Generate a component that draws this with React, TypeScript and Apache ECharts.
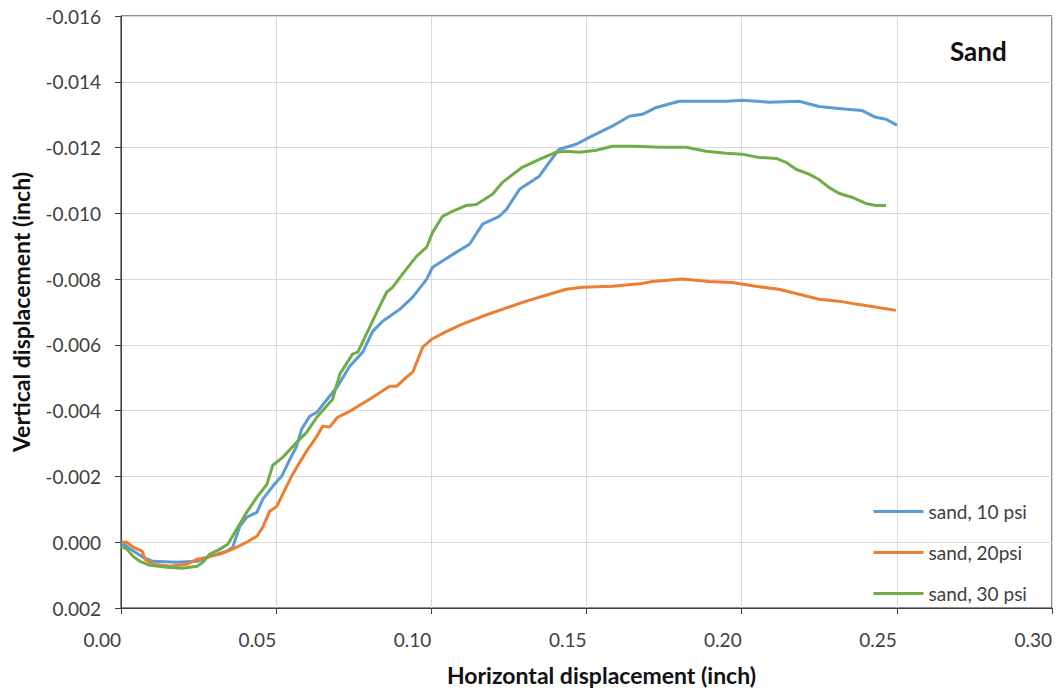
import React, { useEffect, useRef } from "react";
import * as echarts from "echarts";

const seriesNames = ["sand, 10 psi", "sand, 20psi", "sand, 30 psi"];
const seriesColors = ["#5b9bd5", "#ed7d31", "#70ad47"];

const x10 = [0.0, 0.0029, 0.0071, 0.0103, 0.018, 0.0245, 0.0286, 0.0341, 0.036, 0.0383, 0.0405, 0.0438, 0.0457, 0.0489, 0.0518, 0.0544, 0.0566, 0.0582, 0.0608, 0.0631, 0.0672, 0.0698, 0.0737, 0.0779, 0.0811, 0.0843, 0.0898, 0.094, 0.0985, 0.1004, 0.1081, 0.1123, 0.1165, 0.1219, 0.1242, 0.1284, 0.1348, 0.138, 0.1412, 0.1467, 0.1509, 0.1583, 0.1638, 0.168, 0.1725, 0.1799, 0.1863, 0.195, 0.2001, 0.2088, 0.2185, 0.2249, 0.2313, 0.2387, 0.2432, 0.2465, 0.25];
const y10 = [0.0, 0.0002, 0.00046, 0.00058, 0.00061, 0.00058, 0.00043, 0.00027, 0.00015, -0.00049, -0.00076, -0.00091, -0.00131, -0.0017, -0.00201, -0.00252, -0.00292, -0.00344, -0.00383, -0.00395, -0.00444, -0.00474, -0.00535, -0.00578, -0.00641, -0.00672, -0.00708, -0.00745, -0.008, -0.00836, -0.00882, -0.00906, -0.00967, -0.00991, -0.01012, -0.01073, -0.01113, -0.01155, -0.01195, -0.0121, -0.01231, -0.01265, -0.01295, -0.01301, -0.01322, -0.01341, -0.01341, -0.01341, -0.01344, -0.01338, -0.01341, -0.01325, -0.01319, -0.01313, -0.01292, -0.01286, -0.01268];

const x20 = [0.0003, 0.0019, 0.0039, 0.0068, 0.0077, 0.0103, 0.0158, 0.0212, 0.0245, 0.0277, 0.0319, 0.036, 0.0405, 0.0438, 0.0457, 0.0479, 0.0502, 0.0521, 0.055, 0.0576, 0.0598, 0.0631, 0.065, 0.0672, 0.0698, 0.0737, 0.0801, 0.0866, 0.0888, 0.092, 0.094, 0.0972, 0.1001, 0.1049, 0.11, 0.1165, 0.1219, 0.1306, 0.138, 0.1435, 0.1486, 0.1583, 0.168, 0.1712, 0.1808, 0.1895, 0.1969, 0.2046, 0.212, 0.2185, 0.2249, 0.2313, 0.2368, 0.242, 0.2497];
const y20 = [0.0, 0.0, 0.00015, 0.00027, 0.00052, 0.00067, 0.00073, 0.00067, 0.00052, 0.00046, 0.00036, 0.00021, 0.0, -0.00018, -0.00046, -0.00094, -0.00109, -0.00146, -0.00201, -0.00243, -0.00277, -0.00322, -0.00353, -0.0035, -0.0038, -0.00398, -0.00435, -0.00474, -0.00474, -0.00502, -0.00517, -0.00593, -0.00617, -0.00641, -0.00663, -0.00687, -0.00705, -0.00733, -0.00754, -0.00769, -0.00775, -0.00778, -0.00787, -0.00793, -0.008, -0.00793, -0.0079, -0.00778, -0.00769, -0.00754, -0.00739, -0.00733, -0.00724, -0.00717, -0.00705];

const x30 = [0.0, 0.0019, 0.0039, 0.0061, 0.0093, 0.0148, 0.0199, 0.0245, 0.0264, 0.0286, 0.0319, 0.0344, 0.0373, 0.0405, 0.0438, 0.047, 0.0489, 0.0521, 0.056, 0.0598, 0.0631, 0.0682, 0.0705, 0.0746, 0.0763, 0.0824, 0.0856, 0.0875, 0.0907, 0.0952, 0.0985, 0.1004, 0.1036, 0.1068, 0.1113, 0.1145, 0.1197, 0.1229, 0.1293, 0.1348, 0.1403, 0.1435, 0.1477, 0.1532, 0.1583, 0.166, 0.1734, 0.1821, 0.1885, 0.195, 0.2001, 0.2056, 0.2111, 0.2143, 0.2175, 0.2217, 0.2249, 0.2281, 0.2313, 0.2355, 0.24, 0.2432, 0.2465];
const y30 = [0.00012, 0.00021, 0.00043, 0.00058, 0.0007, 0.00076, 0.00079, 0.00073, 0.00061, 0.00036, 0.00021, 0.00006, -0.0004, -0.00091, -0.00137, -0.00176, -0.00234, -0.00258, -0.00298, -0.00334, -0.0038, -0.00435, -0.00511, -0.00572, -0.00578, -0.00699, -0.0076, -0.00775, -0.00815, -0.00869, -0.00897, -0.00942, -0.00991, -0.01006, -0.01024, -0.01027, -0.01058, -0.01094, -0.0114, -0.01164, -0.01186, -0.01189, -0.01186, -0.01192, -0.01204, -0.01204, -0.01201, -0.01201, -0.01189, -0.01183, -0.0118, -0.0117, -0.01167, -0.01155, -0.01134, -0.01119, -0.01103, -0.01079, -0.01061, -0.01049, -0.0103, -0.01024, -0.01024];

const xTitle = "Horizontal displacement (inch)";
const yTitle = "Vertical displacement (inch)";
const panelLabel = "Sand";

const FONT = "Lato, 'Liberation Sans', Arial, sans-serif";

function zip(xs: number[], ys: number[]) {
  return xs.map((x, i) => [x, ys[i]]);
}

export default function App() {
  const ref = useRef<HTMLDivElement>(null);
  useEffect(() => {
    if (!ref.current) return;
    const chart = echarts.init(ref.current, undefined, { renderer: "svg" });
    const datasets = [zip(x10, y10), zip(x20, y20), zip(x30, y30)];
    chart.setOption({
      animation: false,
      backgroundColor: "#ffffff",
      textStyle: { fontFamily: FONT },
      grid: {
        left: 121,
        right: 6,
        top: 16,
        bottom: 84,
        show: true,
        borderColor: "#1a1a1a",
        borderWidth: 1,
      },
      legend: {
        orient: "vertical",
        left: 872,
        top: 502,
        padding: 0,
        itemWidth: 50,
        itemHeight: 20,
        itemGap: 22,
        data: seriesNames,
        textStyle: { fontSize: 19, color: "#404040", fontFamily: FONT },
        lineStyle: { width: 3 },
        itemStyle: { opacity: 0 },
      },
      xAxis: {
        type: "value",
        min: 0,
        max: 0.3,
        interval: 0.05,
        name: xTitle,
        nameLocation: "middle",
        nameGap: 55,
        nameTextStyle: {
          fontSize: 23,
          fontWeight: "bold",
          color: "#111",
          fontFamily: FONT,
          padding: [0, 0, 0, 30],
        },
        axisLine: { onZero: false, lineStyle: { color: "#404040", width: 1 } },
        axisTick: { show: true, inside: false, length: 6, lineStyle: { color: "#404040" } },
        axisLabel: {
          fontSize: 19,
          color: "#404040",
          margin: 22,
          align: "right",
          formatter: (v: number) => v.toFixed(2),
        },
        splitLine: { show: true, lineStyle: { color: "#d9d9d9", width: 1 } },
      },
      yAxis: {
        type: "value",
        min: -0.016,
        max: 0.002,
        interval: 0.002,
        inverse: true,
        name: yTitle,
        nameLocation: "middle",
        nameGap: 89,
        nameTextStyle: {
          fontSize: 23,
          fontWeight: "bold",
          color: "#111",
          fontFamily: FONT,
        },
        axisLine: { show: true, onZero: false, lineStyle: { color: "#404040", width: 1 } },
        axisTick: { show: true, inside: false, length: 6, lineStyle: { color: "#404040" } },
        axisLabel: {
          fontSize: 19,
          color: "#404040",
          margin: 20,
          formatter: (v: number) => (Math.abs(v) < 1e-9 ? "0.000" : v.toFixed(3)),
        },
        splitLine: { show: true, lineStyle: { color: "#d9d9d9", width: 1 } },
      },
      graphic: [
        {
          type: "text",
          left: 950,
          top: 38,
          style: {
            text: panelLabel,
            fontSize: 26,
            fontWeight: "bold",
            fill: "#111",
            fontFamily: FONT,
          },
        },
      ],
      series: datasets.map((d, i) => ({
        name: seriesNames[i],
        type: "line",
        data: d,
        symbol: "none",
        smooth: false,
        color: seriesColors[i],
        lineStyle: { color: seriesColors[i], width: 3 },
      })),
    });
    return () => chart.dispose();
  }, []);
  return (
    <div
      ref={ref}
      style={{ position: "fixed", left: 0, top: 0, width: 1058, height: 692, background: "#fff" }}
    />
  );
}
